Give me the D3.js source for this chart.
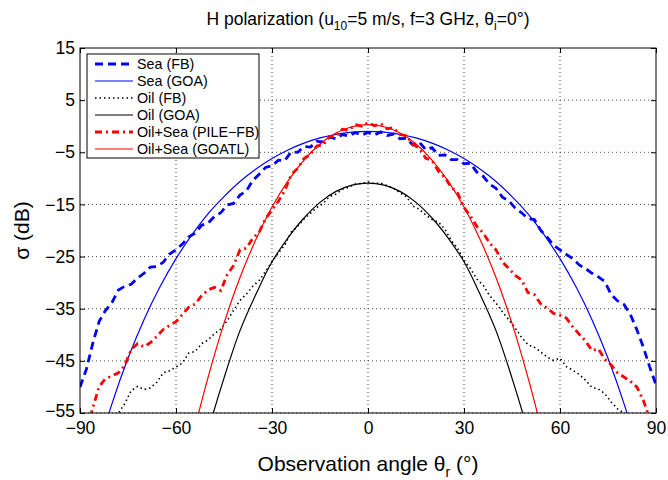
<!DOCTYPE html>
<html>
<head>
<meta charset="utf-8">
<script src="https://cdn.jsdelivr.net/npm/d3@7"></script>
<style>
    body { margin: 0; background: #fff; }
    svg text { font-family: "Liberation Sans", Arial, Helvetica, sans-serif; fill: #000; }
    .grid line { stroke: #000; stroke-width: 1; stroke-dasharray: 1, 3; opacity: 0.7; }
</style>
</head>
<body>
<div id="chart"></div>
<script>
// observation angles for the full-wave (FB) curves
const fbAngles = [-90, -88, -86, -84, -82, -80, -78, -76, -74, -72, -70, -68, -66, -64, -62, -60,
    -58, -56, -54, -52, -50, -48, -46, -44, -42, -40, -38, -36, -34, -32, -30, -28, -26, -24, -22,
    -20, -18, -16, -14, -12, -10, -8, -6, -4, -2, 0, 2, 4, 6, 8, 10, 12, 14, 16, 18, 20, 22, 24,
    26, 28, 30, 32, 34, 36, 38, 40, 42, 44, 46, 48, 50, 52, 54, 56, 58, 60, 62, 64, 66, 68, 70,
    72, 74, 76, 78, 80, 82, 84, 86, 88, 90]

const seaFB = [-50.0, -46.6, -41.6, -37.4, -35.3, -33.8, -31.4, -30.7, -30.3, -29.1, -28.2, -27.0,
    -26.9, -26.1, -24.5, -23.7, -22.6, -21.2, -20.5, -19.0, -18.6, -17.3, -16.6, -15.1, -14.8,
    -13.2, -12.4, -10.4, -9.2, -7.9, -7.6, -6.5, -6.6, -4.9, -5.0, -3.9, -4.0, -2.9, -3.0, -2.1,
    -2.4, -1.6, -1.9, -1.2, -1.7, -1.2, -1.7, -1.1, -1.8, -1.5, -2.4, -2.3, -3.6, -3.0, -4.5,
    -4.1, -5.6, -5.5, -6.4, -6.4, -7.2, -7.1, -8.8, -9.6, -11.1, -11.9, -13.6, -14.3, -15.7,
    -16.6, -17.7, -17.9, -20.0, -21.3, -22.8, -23.7, -24.6, -25.4, -26.6, -27.3, -28.2, -28.9,
    -29.8, -32.3, -33.5, -34.2, -36.1, -39.0, -42.3, -46.1, -49.6]

const oilFB = [-62.0, -61.0, -60.0, -59.0, -58.0, -56.6, -55.0, -53.2, -50.7, -49.9, -50.5, -50.2,
    -49.1, -47.3, -46.9, -46.2, -45.4, -43.5, -43.2, -41.7, -41.0, -39.8, -38.9, -37.3, -35.3,
    -33.4, -32.2, -30.7, -29.6, -27.8, -26.0, -24.3, -22.8, -20.3, -19.2, -17.8, -16.7, -15.6,
    -14.8, -13.5, -13.0, -12.1, -11.7, -11.1, -11.0, -10.7, -11.0, -10.9, -11.4, -11.9, -12.8,
    -13.5, -15.3, -15.9, -17.0, -17.9, -18.4, -19.7, -21.9, -23.4, -25.7, -27.3, -29.3, -30.5,
    -32.5, -33.9, -35.6, -37.1, -38.7, -40.5, -41.9, -42.4, -43.3, -44.3, -44.9, -44.5, -46.1,
    -46.8, -47.6, -48.7, -50.1, -50.4, -51.3, -52.9, -54.2, -55.0, -56.0, -57.0, -58.0, -59.0, -60.0]

const oilSeaFB = [-62.0, -58.5, -54.0, -49.9, -48.4, -47.9, -47.3, -45.9, -42.8, -41.7, -42.3,
    -41.5, -40.3, -39.0, -38.2, -37.5, -36.1, -34.7, -34.1, -32.5, -31.4, -30.9, -31.5, -28.5,
    -26.7, -23.7, -23.4, -21.5, -20.3, -17.7, -16.1, -14.4, -12.3, -9.3, -8.1, -6.2, -5.4, -3.8,
    -3.6, -2.0, -1.9, -0.6, -0.8, 0.3, 0.0, 0.7, 0.1, 0.5, -0.5, -0.3, -1.6, -1.8, -3.5, -4.2,
    -6.1, -6.6, -8.6, -9.8, -11.7, -12.8, -15.6, -17.2, -19.2, -20.5, -22.4, -23.7, -26.0, -27.3,
    -28.6, -29.5, -31.9, -32.3, -34.1, -34.9, -35.9, -36.2, -36.8, -38.5, -39.9, -41.2, -43.0,
    -42.7, -44.7, -45.8, -47.3, -48.1, -48.9, -50.0, -52.5, -56.0, -59.0]

// observation angles for the geometric optics (GOA) curves
const goaAngles = [-85, -80, -75, -70, -65, -60, -55, -50, -45, -40, -35, -30, -25, -20, -15, -10,
    -5, 0, 5, 10, 15, 20, 25, 30, 35, 40, 45, 50, 55, 60, 65, 70, 75, 80, 85]

const seaGOA = [-63.5, -53.2, -44.5, -37.1, -30.8, -25.4, -20.8, -16.8, -13.5, -10.6, -8.2, -6.2,
    -4.55, -3.25, -2.25, -1.55, -1.15, -1.0, -1.15, -1.55, -2.25, -3.25, -4.55, -6.2, -8.2,
    -10.6, -13.5, -16.8, -20.8, -25.4, -30.8, -37.1, -44.5, -53.2, -63.5]

const oilGOA = [null, null, null, null, null, null, -70.0, -58.5, -48.3, -39.2, -32.2, -26.0,
    -21.4, -17.6, -14.6, -12.5, -11.3, -10.9, -11.3, -12.5, -14.6, -17.6, -21.4, -26.0, -32.2,
    -39.2, -48.3, -58.5, -70.0, null, null, null, null, null, null]

const oilSeaGOA = [null, null, null, null, null, null, -60.0, -48.2, -37.8, -29.0, -21.7, -15.5,
    -10.5, -6.5, -3.4, -1.3, -0.1, 0.3, -0.1, -1.3, -3.4, -6.5, -10.5, -15.5, -21.7, -29.0,
    -37.8, -48.2, -60.0, null, null, null, null, null, null]

const xTicks = [-90, -60, -30, 0, 30, 60, 90]
const yTicks = [-55, -45, -35, -25, -15, -5, 5, 15]

const series = [
    { name: "Sea (FB)", x: fbAngles, y: seaFB, color: "#0000ff", width: 2.8, dash: "8,5", curve: d3.curveLinear },
    { name: "Sea (GOA)", x: goaAngles, y: seaGOA, color: "#0000ff", width: 1.2, dash: null, curve: d3.curveCatmullRom },
    { name: "Oil (FB)", x: fbAngles, y: oilFB, color: "#000000", width: 1.6, dash: "1.5,3", curve: d3.curveLinear },
    { name: "Oil (GOA)", x: goaAngles, y: oilGOA, color: "#000000", width: 1.2, dash: null, curve: d3.curveCatmullRom },
    { name: "Oil+Sea (PILE\u2212FB)", x: fbAngles, y: oilSeaFB, color: "#ff0000", width: 2.8, dash: "7,4,2,4", curve: d3.curveLinear },
    { name: "Oil+Sea (GOATL)", x: goaAngles, y: oilSeaGOA, color: "#ff0000", width: 1.2, dash: null, curve: d3.curveCatmullRom },
]

const margin = { top: 48, left: 80, bottom: 67, right: 12 }
const config = {
    svgWidth: 668,
    svgHeight: 480,
}
const width = config.svgWidth - margin.left - margin.right
const height = config.svgHeight - margin.top - margin.bottom

var svg = d3.select('#chart').append('svg')
    .attr('width', config.svgWidth)
    .attr('height', config.svgHeight)

var xScale = d3.scaleLinear().domain([-90, 90]).range([0, width])
var yScale = d3.scaleLinear().domain([-55, 15]).range([height, 0])

var plot = svg.append('g')
    .attr('transform', 'translate(' + margin.left + ',' + margin.top + ')')

plot.append('clipPath').attr('id', 'clip')
    .append('rect').attr('width', width).attr('height', height)

// dotted grid
var grid = plot.append('g').attr('class', 'grid')
grid.selectAll('.gx').data(xTicks.slice(1, -1)).enter().append('line')
    .attr('x1', d => xScale(d)).attr('x2', d => xScale(d))
    .attr('y1', 0).attr('y2', height)
grid.selectAll('.gy').data(yTicks.slice(0, -1)).enter().append('line')
    .attr('x1', 0).attr('x2', width)
    .attr('y1', d => yScale(d)).attr('y2', d => yScale(d))

// curves
var lines = plot.append('g').attr('clip-path', 'url(#clip)')
series.forEach(s => {
    var pts = s.x.map((a, i) => [a, s.y[i]]).filter(p => p[1] !== null)
    var line = d3.line()
        .x(p => xScale(p[0]))
        .y(p => yScale(p[1]))
        .curve(s.curve)
    lines.append('path')
        .datum(pts)
        .attr('d', line)
        .attr('fill', 'none')
        .attr('stroke', s.color)
        .attr('stroke-width', s.width)
        .attr('stroke-dasharray', s.dash)
})

// axes, matlab style: ticks inside on all four sides
const fmt = d => d < 0 ? '\u2212' + Math.abs(d) : String(d)
var xAxis = d3.axisBottom(xScale).tickValues(xTicks).tickFormat(fmt).tickSizeInner(-5).tickSizeOuter(0).tickPadding(9)
var yAxis = d3.axisLeft(yScale).tickValues(yTicks).tickFormat(fmt).tickSizeInner(-5).tickSizeOuter(0).tickPadding(5)

var gx = plot.append('g').attr('transform', 'translate(0,' + height + ')').call(xAxis)
var gy = plot.append('g').call(yAxis)
plot.append('g').call(d3.axisTop(xScale).tickValues(xTicks).tickFormat('').tickSizeInner(-5).tickSizeOuter(0))
plot.append('g').attr('transform', 'translate(' + width + ',0)')
    .call(d3.axisRight(yScale).tickValues(yTicks).tickFormat('').tickSizeInner(-5).tickSizeOuter(0))

plot.selectAll('.domain').remove()
plot.selectAll('.tick line').attr('stroke', '#000')
gx.selectAll('text').style('font-size', '17.5px')
gy.selectAll('text').style('font-size', '17.5px')
// the lowest y label sits a little higher so it clears the -90 label
gy.selectAll('text').filter(d => d === -55).attr('dy', '0.2em')

plot.append('rect')
    .attr('width', width).attr('height', height)
    .attr('fill', 'none').attr('stroke', '#000').attr('stroke-width', 1)

// title
var title = svg.append('text')
    .attr('x', margin.left + width / 2).attr('y', 25)
    .attr('text-anchor', 'middle')
    .style('font-size', '17.5px')
title.append('tspan').text('H polarization (u')
title.append('tspan').text('10').attr('dy', 5).style('font-size', '12px')
title.append('tspan').text('=5 m/s, f=3 GHz, \u03B8').attr('dy', -5)
title.append('tspan').text('i').attr('dy', 5).style('font-size', '12px')
title.append('tspan').text('=0\u00B0)').attr('dy', -5)

// axis labels
var xLabel = svg.append('text')
    .attr('x', margin.left + width / 2).attr('y', 471)
    .attr('text-anchor', 'middle')
    .style('font-size', '21px')
xLabel.append('tspan').text('Observation angle \u03B8')
xLabel.append('tspan').text('r').attr('dy', 6).style('font-size', '14px')
xLabel.append('tspan').text(' (\u00B0)').attr('dy', -6)

svg.append('text')
    .attr('transform', 'translate(29,' + (margin.top + height / 2) + ') rotate(-90)')
    .attr('text-anchor', 'middle')
    .style('font-size', '21px')
    .text('\u03C3 (dB)')

// legend
var legend = svg.append('g').attr('transform', 'translate(87,54)')
legend.append('rect')
    .attr('width', 172).attr('height', 104)
    .attr('fill', '#fff').attr('stroke', '#000').attr('stroke-width', 1)
var rows = legend.selectAll('.row').data(series).enter().append('g')
    .attr('transform', (d, i) => 'translate(0,' + (10 + i * 17) + ')')
rows.append('line')
    .attr('x1', 8).attr('x2', 46)
    .attr('stroke', d => d.color)
    .attr('stroke-width', d => d.width)
    .attr('stroke-dasharray', d => d.dash)
rows.append('text')
    .attr('x', 50).attr('dy', '0.35em')
    .style('font-size', '14.3px')
    .text(d => d.name)
</script>
</body>
</html>
